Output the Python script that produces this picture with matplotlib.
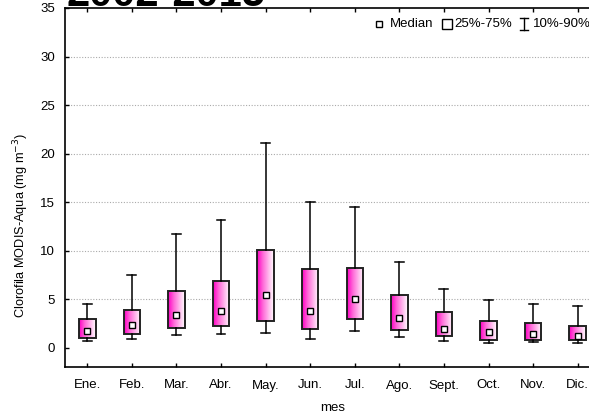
import numpy as np
import matplotlib
matplotlib.use("Agg")
import matplotlib.pyplot as plt
from matplotlib.colors import LinearSegmentedColormap
from matplotlib.patches import Rectangle
from matplotlib.lines import Line2D

plt.rcParams['font.family'] = ['Liberation Sans', 'DejaVu Sans']

months = ["Ene.", "Feb.", "Mar.", "Abr.", "May.", "Jun.", "Jul.", "Ago.", "Sept.", "Oct.", "Nov.", "Dic."]
p10 = [0.7, 0.9, 1.3, 1.4, 1.5, 0.9, 1.75, 1.05, 0.72, 0.5, 0.6, 0.5]
p25 = [1.0, 1.45, 2.0, 2.25, 2.7, 1.9, 2.9, 1.8, 1.15, 0.8, 0.8, 0.8]
median = [1.7, 2.35, 3.4, 3.8, 5.4, 3.8, 5.0, 3.1, 1.95, 1.6, 1.4, 1.15]
p75 = [2.9, 3.85, 5.8, 6.9, 10.1, 8.1, 8.2, 5.4, 3.7, 2.7, 2.5, 2.25]
p90 = [4.5, 7.5, 11.7, 13.2, 21.1, 15.0, 14.5, 8.8, 6.0, 4.95, 4.5, 4.25]
yticks = [0, 5, 10, 15, 20, 25, 30, 35]

W, H = 589, 417
fig = plt.figure(figsize=(W / 100, H / 100), dpi=100)
ax = fig.add_axes([65 / W, (H - 367) / H, 535 / W, 359 / H])

pos = np.arange(1, len(months) + 1)
stats = [dict(whislo=a, q1=b, med=c, q3=d, whishi=e, fliers=[])
         for a, b, c, d, e in zip(p10, p25, median, p75, p90)]
bp = ax.bxp(stats, positions=pos, widths=0.37, patch_artist=True,
            showfliers=False,
            boxprops=dict(facecolor='none', edgecolor='#222222', linewidth=1.4),
            whiskerprops=dict(color='black', linewidth=1.1),
            capprops=dict(color='black', linewidth=1.1),
            capwidths=0.2,
            medianprops=dict(linestyle='none'), zorder=3)

cmap = LinearSegmentedColormap.from_list('pinkfade', [(0, '#b00085'), (0.06, '#ff10c8'),
                                                       (0.35, '#ff6ad9'), (1, '#ffffff')])
grad = np.linspace(0, 1, 256).reshape(1, -1)
for b, x0 in zip(bp['boxes'], pos):
    verts = b.get_path().vertices
    xs, ys = verts[:, 0], verts[:, 1]
    im = ax.imshow(grad, cmap=cmap, aspect='auto',
                   extent=[xs.min(), xs.max(), ys.min(), ys.max()], zorder=2.5,
                   interpolation='bilinear')
    im.set_clip_path(b)

ax.plot(pos, median, linestyle='none', marker='s', markersize=4.5,
        markerfacecolor='white', markeredgecolor='black', markeredgewidth=1.0, zorder=5)

ax.set_xlim(0.5, 12.5)
ax.set_ylim(-2, 35)
ax.set_yticks(yticks)
ax.set_xticks(pos)
ax.set_xticklabels(months, fontsize=9.5)
ax.tick_params(axis='y', direction='in', length=3, labelsize=9.5, width=1, pad=7)
ax.tick_params(axis='x', direction='in', length=3, top=True, labelsize=9.5, width=1, pad=9)
for y in [5, 10, 15, 20, 25, 30]:
    ax.axhline(y, color='#aaaaaa', linestyle=(0, (1, 1.5)), linewidth=0.8, zorder=1)
for s in ['left', 'bottom', 'top', 'right']:
    ax.spines[s].set_linewidth(1.2)
ax.set_ylabel('Clorofila MODIS-Aqua (mg m$^{-3}$)', fontsize=9.2)
ax.yaxis.set_label_coords(-(65 - 31) / 535, (367 - 226) / 359)
ax.set_xlabel('mes', fontsize=9.5)
ax.xaxis.set_label_coords(0.5, -(402 - 367) / 359)

fig.text(67 / W, (H - 6) / H, '2002-2015', fontsize=30, fontweight='bold',
         ha='left', va='baseline')

# legend
ly = (H - 24) / H
fig.add_artist(Line2D([379 / W], [ly], marker='s', markersize=4.0, markerfacecolor='white',
                      markeredgecolor='black', markeredgewidth=1.0, linestyle='none',
                      transform=fig.transFigure))
fig.text(390 / W, ly, 'Median', fontsize=9.5, va='center', ha='left')
fig.add_artist(Rectangle((442 / W, (H - 29) / H), 10 / W, 10 / H, facecolor='white',
                         edgecolor='black', linewidth=1.0, transform=fig.transFigure))
fig.text(454 / W, ly, '25%-75%', fontsize=9.5, va='center', ha='left')
xc = 524 / W
fig.add_artist(Line2D([xc, xc], [(H - 30) / H, (H - 18) / H], color='black', linewidth=1.0,
                      transform=fig.transFigure))
fig.add_artist(Line2D([xc - 4 / W, xc + 4 / W], [(H - 30) / H] * 2, color='black', linewidth=1.0,
                      transform=fig.transFigure))
fig.add_artist(Line2D([xc - 4 / W, xc + 4 / W], [(H - 18) / H] * 2, color='black', linewidth=1.0,
                      transform=fig.transFigure))
fig.text(533 / W, ly, '10%-90%', fontsize=9.5, va='center', ha='left')

fig.savefig('out.png', dpi=100)
